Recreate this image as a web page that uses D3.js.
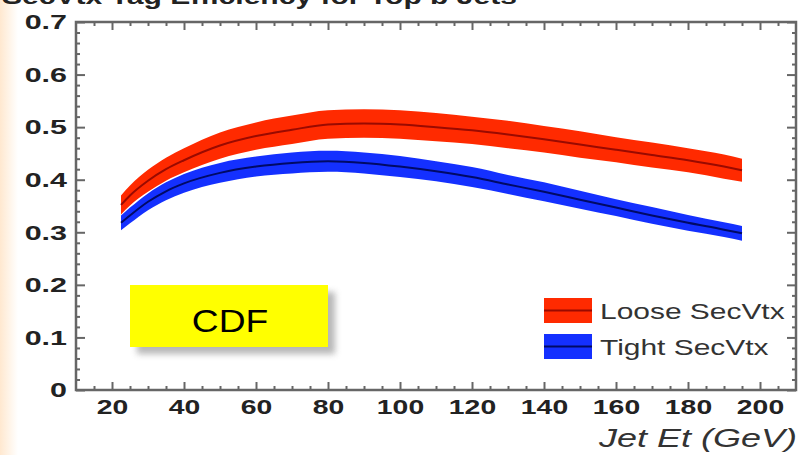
<!DOCTYPE html>
<html>
<head>
<meta charset="utf-8">
<script src="https://cdn.jsdelivr.net/npm/d3@7"></script>
<style>
  body { margin: 0; background: #fff; }
  svg { display: block; font-family: "Liberation Sans", Arial, sans-serif; }
</style>
</head>
<body>
<svg id="chart" width="799" height="455"></svg>
<script>
// values
var jetEt = [22.5, 25, 30, 35, 40, 50, 60, 70, 80, 90, 100, 110, 120, 130, 140, 150, 160, 170, 180, 190, 195];
var looseEff = [0.352, 0.370, 0.398, 0.420, 0.437, 0.465, 0.483, 0.495, 0.505, 0.507, 0.505, 0.500, 0.494, 0.486, 0.477, 0.467, 0.457, 0.447, 0.437, 0.425, 0.418];
var looseErr = [0.018, 0.019, 0.021, 0.022, 0.023, 0.025, 0.026, 0.027, 0.027, 0.027, 0.027, 0.027, 0.026, 0.026, 0.025, 0.025, 0.024, 0.024, 0.023, 0.023, 0.022];
var tightEff = [0.318, 0.332, 0.358, 0.378, 0.393, 0.413, 0.425, 0.432, 0.435, 0.432, 0.425, 0.416, 0.405, 0.391, 0.377, 0.362, 0.347, 0.332, 0.318, 0.305, 0.298];
var tightErr = [0.014, 0.015, 0.016, 0.017, 0.018, 0.019, 0.019, 0.020, 0.020, 0.020, 0.020, 0.019, 0.019, 0.018, 0.018, 0.017, 0.016, 0.016, 0.015, 0.014, 0.014];

var xTicks = [20, 40, 60, 80, 100, 120, 140, 160, 180, 200];
var yTicks = [0, 0.1, 0.2, 0.3, 0.4, 0.5, 0.6, 0.7];
var yTickLabels = ["0", "0.1", "0.2", "0.3", "0.4", "0.5", "0.6", "0.7"];
var seriesNames = ["Loose SecVtx", "Tight SecVtx"];

(function () {
var svg = d3.select("#chart");
var FONT = "'Liberation Sans', Arial, sans-serif";
var mLeft = 76, mRight = 796, mTop = 22, mBottom = 390;

var x = d3.scaleLinear().domain([10, 210]).range([mLeft, mRight]);
var y = d3.scaleLinear().domain([0, 0.7]).range([mBottom, mTop]);

// faint peach strip on the left edge (slide background)
var defs = svg.append("defs");
var grad = defs.append("linearGradient").attr("id", "edge").attr("x1", 0).attr("x2", 1);
grad.append("stop").attr("offset", 0).attr("stop-color", "#ffd9b0").attr("stop-opacity", 0.6);
grad.append("stop").attr("offset", 1).attr("stop-color", "#ffd9b0").attr("stop-opacity", 0);
svg.append("rect").attr("x", 0).attr("y", 0).attr("width", 18).attr("height", 455).attr("fill", "url(#edge)");

var shadow = defs.append("filter").attr("id", "shadow").attr("x", -0.2).attr("y", -0.3).attr("width", 1.5).attr("height", 1.8);
shadow.append("feGaussianBlur").attr("stdDeviation", 3);

// the picture is squashed wide, so the text is too
function widen(sel, k) {
    sel.each(function () {
        var w = this.getComputedTextLength();
        d3.select(this).attr("textLength", w * k).attr("lengthAdjust", "spacingAndGlyphs");
    });
}

// clipped title at the very top
svg.append("text")
    .attr("x", 2).attr("y", 4)
    .attr("font-size", 22).attr("font-weight", "bold").attr("fill", "#222")
    .attr("font-family", FONT)
    .attr("textLength", 515).attr("lengthAdjust", "spacingAndGlyphs")
    .text("SecVtx Tag Efficiency for Top b Jets");

// bands
var rows = jetEt.map(function (e, i) {
    return {et: e, loose: looseEff[i], lErr: looseErr[i], tight: tightEff[i], tErr: tightErr[i]};
});

function band(key, errKey) {
    return d3.area()
        .x(function (d) { return x(d.et); })
        .y0(function (d) { return y(d[key] - d[errKey]); })
        .y1(function (d) { return y(d[key] + d[errKey]); })
        .curve(d3.curveMonotoneX);
}
function centre(key) {
    return d3.line()
        .x(function (d) { return x(d.et); })
        .y(function (d) { return y(d[key]); })
        .curve(d3.curveMonotoneX);
}

svg.append("path").datum(rows).attr("d", band("tight", "tErr")).attr("fill", "#1430ff");
svg.append("path").datum(rows).attr("d", centre("tight")).attr("fill", "none").attr("stroke", "#000a66").attr("stroke-width", 2);
svg.append("path").datum(rows).attr("d", band("loose", "lErr")).attr("fill", "#ff2a00");
svg.append("path").datum(rows).attr("d", centre("loose")).attr("fill", "none").attr("stroke", "#9a0a00").attr("stroke-width", 2);

// axes: ticks point inward, on all four sides
var axisColor = "#666";
function style(g) {
    g.select(".domain").remove();
    g.selectAll("line").attr("stroke", axisColor).attr("stroke-width", 2);
}
var xMinor = d3.range(15, 210, 5).filter(function (v) { return v % 20 !== 0; });
var yMinor = d3.range(1, 35).map(function (i) { return i * 0.02; })
    .filter(function (v) { return Math.abs(v * 10 - Math.round(v * 10)) > 0.01; });

svg.append("g").attr("transform", "translate(0," + mBottom + ")")
    .call(d3.axisBottom(x).tickValues(xTicks).tickSize(-8).tickPadding(9).tickFormat(d3.format("d")))
    .call(style)
    .call(function (g) {
        g.attr("font-family", FONT);
        g.selectAll("text").attr("font-size", 21).attr("font-weight", "bold").attr("fill", "#222")
            .call(widen, 1.35);
    });
svg.append("g").attr("transform", "translate(0," + mBottom + ")")
    .call(d3.axisBottom(x).tickValues(xMinor).tickSize(-4).tickFormat("")).call(style);
svg.append("g").attr("transform", "translate(0," + mTop + ")")
    .call(d3.axisTop(x).tickValues(xTicks).tickSize(-8).tickFormat("")).call(style);
svg.append("g").attr("transform", "translate(0," + mTop + ")")
    .call(d3.axisTop(x).tickValues(xMinor).tickSize(-4).tickFormat("")).call(style);

svg.append("g").attr("transform", "translate(" + mLeft + ",0)")
    .call(d3.axisLeft(y).tickValues(yTicks).tickSize(-9).tickPadding(9)
        .tickFormat(function (d, i) { return yTickLabels[i]; }))
    .call(style)
    .call(function (g) {
        g.attr("font-family", FONT);
        g.selectAll("text").attr("font-size", 21).attr("font-weight", "bold").attr("fill", "#222")
            .call(widen, 1.45);
    });
svg.append("g").attr("transform", "translate(" + mLeft + ",0)")
    .call(d3.axisLeft(y).tickValues(yMinor).tickSize(-4).tickFormat("")).call(style);
svg.append("g").attr("transform", "translate(" + mRight + ",0)")
    .call(d3.axisRight(y).tickValues(yTicks).tickSize(-9).tickFormat("")).call(style);
svg.append("g").attr("transform", "translate(" + mRight + ",0)")
    .call(d3.axisRight(y).tickValues(yMinor).tickSize(-4).tickFormat("")).call(style);

svg.append("rect")
    .attr("x", mLeft).attr("y", mTop).attr("width", mRight - mLeft).attr("height", mBottom - mTop)
    .attr("fill", "none").attr("stroke", axisColor).attr("stroke-width", 2.5);

// axis title
svg.append("text")
    .attr("x", 797).attr("y", 447).attr("text-anchor", "end")
    .attr("font-size", 25).attr("font-style", "italic").attr("fill", "#333")
    .attr("font-family", FONT)
    .attr("textLength", 198).attr("lengthAdjust", "spacingAndGlyphs")
    .text("Jet Et (GeV)");

// CDF label box
svg.append("rect").attr("x", 137).attr("y", 292).attr("width", 198).attr("height", 62)
    .attr("fill", "#999").attr("opacity", 0.7).attr("filter", "url(#shadow)");
svg.append("rect").attr("x", 130).attr("y", 285).attr("width", 198).attr("height", 62).attr("fill", "#ffff00");
svg.append("text").attr("x", 230).attr("y", 332).attr("text-anchor", "middle")
    .attr("font-size", 31).attr("fill", "#000").attr("font-family", FONT).text("CDF")
    .call(widen, 1.2);

// legend
var legColors = [["#ff2a00", "#9a0a00"], ["#1430ff", "#000a66"]];
var leg = svg.append("g").selectAll("g").data(seriesNames).join("g")
    .attr("transform", function (d, i) { return "translate(544," + (298 + i * 36) + ")"; });
leg.append("rect").attr("width", 48).attr("height", 25)
    .attr("fill", function (d, i) { return legColors[i][0]; });
leg.append("line").attr("x1", 0).attr("x2", 48).attr("y1", 12.5).attr("y2", 12.5)
    .attr("stroke", function (d, i) { return legColors[i][1]; }).attr("stroke-width", 2);
leg.append("text").attr("x", 56).attr("y", 21)
    .attr("font-size", 22).attr("fill", "#333").attr("font-family", FONT)
    .text(function (d) { return d; })
    .call(widen, 1.36);
})();
</script>
</body>
</html>
